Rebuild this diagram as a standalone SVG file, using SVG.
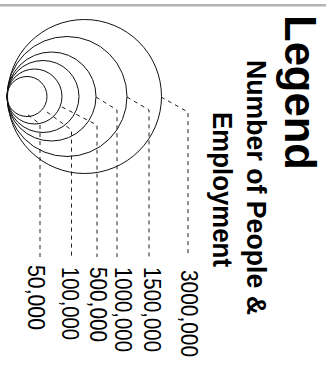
<svg xmlns="http://www.w3.org/2000/svg" width="326" height="382" viewBox="0 0 326 382">
<style>
.c{fill:none;stroke:#111;stroke-width:1}
.l{fill:none;stroke:#222;stroke-width:1;stroke-dasharray:4 4}
.t{font-family:"Liberation Sans",Arial,sans-serif;fill:#000}
.b{font-weight:bold}
</style>
<rect x="0" y="0" width="326" height="382" fill="#fff"/>
<rect x="0" y="4" width="326" height="2.5" fill="#b4b4b4"/>
<g id="connectors">
<polyline class="l" points="161,97 188,112 188,257"/>
<polyline class="l" points="127,97 149,110 149,257"/>
<polyline class="l" points="96,97 117,110 117,257"/>
<polyline class="l" points="62,107 97,125 97,257"/>
<polyline class="l" points="47,112 71.5,130 71.5,257"/>
<polyline class="l" points="28,115 40,124 40,257"/>
</g>
<g id="circle-3000000"><circle class="c" cx="84.5" cy="96.5" r="77"/></g>
<g id="circle-1500000"><circle class="c" cx="67" cy="96.5" r="60"/></g>
<g id="circle-1000000"><circle class="c" cx="51.5" cy="96.5" r="44.5"/></g>
<g id="circle-500000"><circle class="c" cx="43" cy="96.5" r="36"/></g>
<g id="circle-100000"><circle class="c" cx="34.5" cy="96.5" r="27.5"/></g>
<g id="circle-50000"><circle class="c" cx="27" cy="96.5" r="20"/></g>
<g id="title">
<text class="t b" font-size="45" transform="translate(285,15) rotate(90)" textLength="155" lengthAdjust="spacingAndGlyphs">Legend</text>
</g>
<g id="subtitle">
<text class="t b" font-size="28.5" transform="translate(246.5,60) rotate(90)" textLength="255" lengthAdjust="spacingAndGlyphs">Number of People &amp;</text>
<text class="t b" font-size="28.5" transform="translate(212.5,112) rotate(90)" textLength="155" lengthAdjust="spacingAndGlyphs">Employment</text>
</g>
<g id="labels">
<text class="t" font-size="23" transform="translate(181,270) rotate(90)" textLength="87" lengthAdjust="spacingAndGlyphs">3000,000</text>
<text class="t" font-size="23" transform="translate(144,267) rotate(90)" textLength="85" lengthAdjust="spacingAndGlyphs">1500,000</text>
<text class="t" font-size="23" transform="translate(115,267) rotate(90)" textLength="85" lengthAdjust="spacingAndGlyphs">1000,000</text>
<text class="t" font-size="23" transform="translate(90,267) rotate(90)" textLength="75" lengthAdjust="spacingAndGlyphs">500,000</text>
<text class="t" font-size="23" transform="translate(62,267) rotate(90)" textLength="73" lengthAdjust="spacingAndGlyphs">100,000</text>
<text class="t" font-size="23" transform="translate(27.5,265) rotate(90)" textLength="65" lengthAdjust="spacingAndGlyphs">50,000</text>
</g>
</svg>
